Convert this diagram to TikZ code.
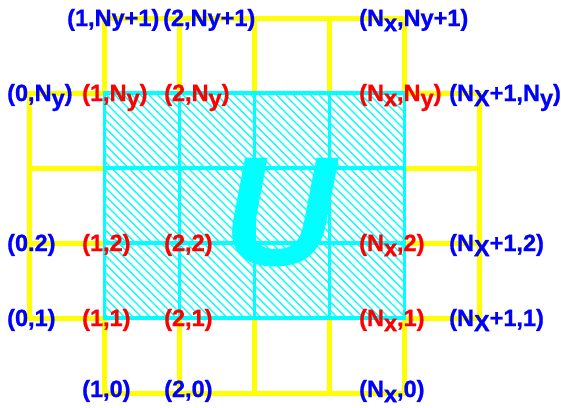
\documentclass[tikz,border=0pt]{standalone}
\usepackage{fontspec}
\setmainfont{Liberation Sans}
\newfontfamily\lblfam{Liberation Sans Bold}[FakeBold=1]
\newfontfamily\ufam{Liberation Sans Bold Italic}
\newcommand\lblfont{\lblfam\fontsize{23.5}{28}\selectfont}
\newcommand\bigufont{\ufam\fontsize{156}{160}\selectfont}
\newcommand\lowr[1]{\raisebox{-0.22em}{#1}}
\definecolor{lblue}{RGB}{0,0,255}
\definecolor{lred}{RGB}{255,0,0}
\definecolor{ylw}{RGB}{255,255,0}
\definecolor{cyn}{RGB}{0,255,255}
\begin{document}
\begin{tikzpicture}[x=1pt,y=-1pt,
  yline/.style={draw=ylw, line width=5pt, line join=miter},
  cline/.style={draw=cyn, line width=3.5pt, line join=miter},
  hatch/.style={draw=cyn, line width=1.1pt},
  lbl/.style={anchor=base west, inner sep=0pt, font=\lblfont},
  ghost/.style={lbl, text=lblue},
  inner/.style={lbl, text=lred}]
\useasboundingbox (0,0) rectangle (561,407);
% yellow ghost cells
\draw[yline] (104.5,93) -- (104.5,18) -- (404.5,18) -- (404.5,93);
\foreach \x in {179.5,254.5,329.5} \draw[yline] (\x,18) -- (\x,93);
\draw[yline] (104.5,318) -- (104.5,393) -- (404.5,393) -- (404.5,318);
\foreach \x in {179.5,254.5,329.5} \draw[yline] (\x,318) -- (\x,393);
\draw[yline] (104.5,93) -- (29.5,93) -- (29.5,318) -- (104.5,318);
\foreach \y in {168,243} \draw[yline] (29.5,\y) -- (104.5,\y);
\draw[yline] (404.5,93) -- (479.5,93) -- (479.5,318) -- (404.5,318);
\foreach \y in {168,243} \draw[yline] (404.5,\y) -- (479.5,\y);
% hatching of interior
\begin{scope}
  \clip (104.5,93) rectangle (404.5,318);
  \foreach \c in {-125,-116.5,...,405} \draw[hatch] (\c,93) -- ++(225,225);
\end{scope}
% cyan interior grid
\draw[cline] (104.5,93) rectangle (404.5,318);
\foreach \x in {179.5,254.5,329.5} \draw[cline] (\x,93) -- (\x,318);
\foreach \y in {168,243} \draw[cline] (104.5,\y) -- (404.5,\y);
% big U
\node[text=cyn, font=\bigufont, inner sep=0pt] (U) at (280,213) {U};
% labels, top row
\node[ghost] (t1) at (67,26) {(1,Ny+1)};
\node[ghost] (t2) at (163,26) {(2,Ny+1)};
\node[ghost] (tN) at (359,26) {(N\lowr{x},Ny+1)};
% row Ny
\node[ghost] (a0) at (7,101) {(0,N\lowr{y})};
\node[inner] (a1) at (82,101) {(1,N\lowr{y})};
\node[inner] (a2) at (164,101) {(2,N\lowr{y})};
\node[inner] (aN) at (359,101) {(N\lowr{x},N\lowr{y})};
\node[ghost] (aM) at (449,101) {(N\lowr{X}+1,N\lowr{y})};
% row 2
\node[ghost] (b0) at (7,251) {(0.2)};
\node[inner] (b1) at (82,251) {(1,2)};
\node[inner] (b2) at (164,251) {(2,2)};
\node[inner] (bN) at (359,251) {(N\lowr{x},2)};
\node[ghost] (bM) at (449,251) {(N\lowr{X}+1,2)};
% row 1
\node[ghost] (c0) at (7,326) {(0,1)};
\node[inner] (c1) at (82,326) {(1,1)};
\node[inner] (c2) at (164,326) {(2,1)};
\node[inner] (cN) at (359,326) {(N\lowr{x},1)};
\node[ghost] (cM) at (449,326) {(N\lowr{X}+1,1)};
% bottom row
\node[ghost] (d1) at (82,397) {(1,0)};
\node[ghost] (d2) at (164,397) {(2,0)};
\node[ghost] (dN) at (359,397) {(N\lowr{x},0)};
\end{tikzpicture}
\end{document}
